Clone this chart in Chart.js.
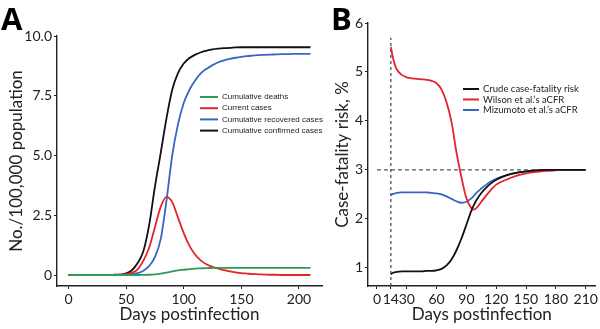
<!DOCTYPE html>
<html>
<head>
<meta charset="utf-8">
<script src="https://cdn.jsdelivr.net/npm/chart.js@4"></script>
<style>
  body { margin: 0; background: #fff; }
  #quadro { position: relative; width: 600px; height: 329px; }
  canvas { position: absolute; top: 0; }
  #graficoA { left: 0; }
  #graficoB { left: 300px; }
</style>
</head>
<body>
<div id="quadro">
  <canvas id="graficoA" width="330" height="329"></canvas>
  <canvas id="graficoB" width="300" height="329"></canvas>
</div>
<script>
// Painel A - dias (passo de 5)
var diasA = [0,5,10,15,20,25,30,35,40,45,50,55,60,65,70,75,80,85,90,95,100,105,110,115,120,125,130,135,140,145,150,155,160,165,170,175,180,185,190,195,200,205,210];
var mortesAcum = [0,0,0,0,0,0,0,0,0,0,0,0,0,0.005,0.01,0.03,0.06,0.1,0.15,0.19,0.22,0.25,0.27,0.28,0.29,0.295,0.3,0.3,0.3,0.3,0.3,0.3,0.3,0.3,0.3,0.3,0.3,0.3,0.3,0.3,0.3,0.3,0.3];
var casosAtuais = [0,0,0,0,0,0,0,0,0,0.01,0.03,0.09,0.24,0.6,1.15,2.0,2.85,3.27,3.05,2.4,1.75,1.22,0.85,0.6,0.44,0.34,0.27,0.2,0.15,0.11,0.08,0.06,0.04,0.03,0.02,0.01,0.01,0,0,0,0,0,0];
var recuperadosAcum = [0,0,0,0,0,0,0,0,0,0,0.01,0.03,0.08,0.18,0.38,0.75,1.5,3.1,5.0,6.3,7.2,7.75,8.15,8.45,8.63,8.78,8.9,8.98,9.04,9.09,9.13,9.16,9.18,9.2,9.21,9.22,9.23,9.24,9.24,9.25,9.25,9.25,9.25];
var confirmadosAcum = [0,0,0,0,0,0,0,0,0.01,0.02,0.07,0.2,0.5,1.0,2.1,3.7,5.1,6.55,7.75,8.45,8.85,9.08,9.22,9.32,9.39,9.44,9.47,9.49,9.5,9.52,9.53,9.53,9.53,9.53,9.53,9.53,9.53,9.53,9.53,9.53,9.53,9.53,9.53];
var ticksXA = [0, 50, 100, 150, 200];
var ticksYA = [0, 2.5, 5, 7.5, 10];

// Painel B
var diasB = [14,16,18,20,25,30,35,40,45,50,55,60,65,70,75,80,85,90,95,97,100,105,110,115,120,130,140,150,160,170,180,190,200,210];
var cfrBruto = [0.87,0.9,0.91,0.92,0.93,0.93,0.93,0.93,0.93,0.94,0.94,0.95,0.98,1.05,1.17,1.36,1.6,1.88,2.17,2.26,2.38,2.53,2.64,2.73,2.8,2.89,2.94,2.97,2.99,3.0,3.0,3.0,3.0,3.0];
var cfrWilson = [5.51,5.3,5.15,5.05,4.94,4.89,4.87,4.86,4.85,4.84,4.82,4.77,4.64,4.38,3.98,3.36,2.85,2.42,2.22,2.19,2.22,2.35,2.48,2.6,2.7,2.8,2.88,2.93,2.96,2.98,2.99];
var cfrMizumoto = [2.48,2.51,2.52,2.53,2.54,2.54,2.54,2.54,2.54,2.54,2.53,2.52,2.5,2.46,2.41,2.36,2.33,2.35,2.42,2.46,2.53,2.62,2.7,2.77,2.82,2.89,2.94,2.97,2.99,3.0,3.0,3.0,3.0,3.0];
var ticksXB = [0, 14, 30, 60, 90, 120, 150, 180, 210];
var ticksYB = [1, 2, 3, 4, 5, 6];
var refDia = 14;     // linha vertical tracejada
var refRisco = 3;    // linha horizontal tracejada

var pares = (xs, ys) => ys.map((y, i) => ({ x: xs[i], y: y }));

var fonteTick = { family: 'Lato', size: 14 };
var fonteTitulo = { family: 'Lato', size: 17 };
var corEixo = '#222';

// legenda desenhada dentro da area do grafico
const legendaPlugin = {
  id: 'legendaDentro',
  afterDraw(chart, args, opts) {
    const ctx = chart.ctx;
    ctx.save();
    ctx.font = opts.font;
    ctx.textBaseline = 'middle';
    let y = opts.y;
    chart.data.datasets.forEach(ds => {
      if (!ds.label) return;
      ctx.strokeStyle = ds.borderColor;
      ctx.lineWidth = 2;
      ctx.beginPath();
      ctx.moveTo(opts.x, y);
      ctx.lineTo(opts.x + opts.linha, y);
      ctx.stroke();
      ctx.fillStyle = '#222';
      ctx.fillText(ds.label, opts.x + opts.linha + opts.gap, y);
      y += opts.passo;
    });
    ctx.restore();
  }
};

const letraPlugin = {
  id: 'letraPainel',
  afterDraw(chart, args, opts) {
    const ctx = chart.ctx;
    ctx.save();
    ctx.font = 'bold 31px "Open Sans"';
    ctx.fillStyle = '#000';
    ctx.textBaseline = 'alphabetic';
    ctx.fillText(opts.texto, opts.x, opts.y);
    ctx.restore();
  }
};

function linha(label, dados, cor) {
  return { label: label, data: dados, borderColor: cor, backgroundColor: cor, borderWidth: 1.8,
           pointRadius: 0, fill: false, cubicInterpolationMode: 'monotone' };
}

function eixo(min, max, ticks, titulo, extra) {
  return Object.assign({
    type: 'linear', min: min, max: max,
    afterBuildTicks: s => { s.ticks = ticks.map(v => ({ value: v })); },
    grid: { drawOnChartArea: false, drawTicks: true, tickLength: 3, color: corEixo },
    border: { color: corEixo, width: 1.4 },
    ticks: { font: fonteTick, color: '#222', autoSkip: false, maxRotation: 0, padding: 2 },
    title: { display: true, text: titulo, font: fonteTitulo, color: '#222' }
  }, extra);
}

var ctxA = document.getElementById('graficoA').getContext('2d');
var ctxB = document.getElementById('graficoB').getContext('2d');

var graficoA = new Chart(ctxA, {
  type: 'line',
  data: {
    datasets: [
      linha('Cumulative deaths', pares(diasA, mortesAcum), '#2e9a58'),
      linha('Current cases', pares(diasA, casosAtuais), '#e4232b'),
      linha('Cumulative recovered cases', pares(diasA, recuperadosAcum), '#3a64c4'),
      linha('Cumulative confirmed cases', pares(diasA, confirmadosAcum), '#111111')
    ]
  },
  options: {
    responsive: false,
    animation: false,
    layout: { padding: { left: 0, right: 8, top: 36, bottom: 0 } },
    scales: {
      x: eixo(-10, 220, ticksXA, 'Days postinfection', { afterFit: s => { s.height = 43; } }),
      y: eixo(-0.46, 10, ticksYA, 'No./100,000 population', { afterFit: s => { s.width = 57; } })
    },
    plugins: {
      legend: { display: false },
      tooltip: { enabled: false },
      legendaDentro: { x: 200, y: 97, passo: 11.2, linha: 18, gap: 4, font: '8px "Liberation Sans"' },
      letraPainel: { texto: 'A', x: 1, y: 30 }
    }
  },
  plugins: [legendaPlugin, letraPlugin]
});
graficoA.options.scales.x.ticks.callback = v => v;
graficoA.options.scales.y.ticks.callback = v => v === 0 ? '0' : v.toFixed(1);
graficoA.options.scales.x.title.padding = { top: 0, bottom: 4 };
graficoA.options.scales.y.title.padding = { top: 6, bottom: 0 };
graficoA.update();

var graficoB = new Chart(ctxB, {
  type: 'line',
  data: {
    datasets: [
      linha('Crude case-fatality risk', pares(diasB, cfrBruto), '#111111'),
      linha('Wilson et al.\u2019s aCFR', pares(diasB, cfrWilson), '#e4232b'),
      linha('Mizumoto et al.\u2019s aCFR', pares(diasB, cfrMizumoto), '#3a64c4'),
      { data: [{ x: refDia, y: 0.63 }, { x: refDia, y: 5.7 }], borderColor: '#444', borderWidth: 1.2,
        borderDash: [3, 3], pointRadius: 0, fill: false },
      { data: [{ x: 0, y: refRisco }, { x: 210, y: refRisco }], borderColor: '#555', borderWidth: 1.2,
        borderDash: [4, 3], pointRadius: 0, fill: false }
    ]
  },
  options: {
    responsive: false,
    animation: false,
    layout: { padding: { left: 0, right: 3, top: 23, bottom: 0 } },
    scales: {
      x: eixo(-9, 220, ticksXB, 'Days postinfection', { afterFit: s => { s.height = 43; } }),
      y: eixo(0.63, 6, ticksYB, 'Case-fatality risk, %', { afterFit: s => { s.width = 68; } })
    },
    plugins: {
      legend: { display: false },
      tooltip: { enabled: false },
      legendaDentro: { x: 163, y: 89, passo: 10.5, linha: 16, gap: 4, font: '9.5px Lato' },
      letraPainel: { texto: 'B', x: 31, y: 30 }
    }
  },
  plugins: [legendaPlugin, letraPlugin]
});
graficoB.options.scales.x.title.padding = { top: 0, bottom: 4 };
graficoB.options.scales.y.title.padding = { top: 32, bottom: 0 };
graficoB.update();
</script>
</body>
</html>
